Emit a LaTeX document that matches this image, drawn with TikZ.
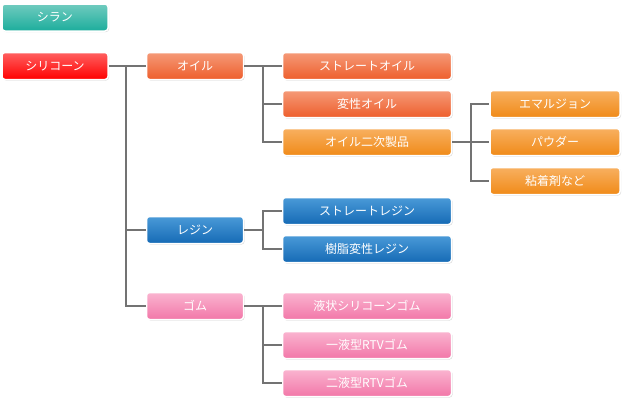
\documentclass[tikz,border=0pt]{standalone}
\usepackage{fontspec}
\setmainfont{Noto Sans CJK JP}
\usetikzlibrary{shadows}

\definecolor{tealA}{HTML}{70CBBF}\definecolor{tealB}{HTML}{1CAD9C}
\definecolor{redA}{HTML}{FF6060}\definecolor{redB}{HTML}{FF0000}
\definecolor{oilA}{HTML}{F59A78}\definecolor{oilB}{HTML}{EE5E2C}
\definecolor{subA}{HTML}{F8B060}\definecolor{subB}{HTML}{F08A18}
\definecolor{resA}{HTML}{4A9AD8}\definecolor{resB}{HTML}{156AB5}
\definecolor{gomA}{HTML}{FAB4D0}\definecolor{gomB}{HTML}{F277A8}

\tikzset{
  box/.style 2 args = {rounded corners=3pt, draw=white, line width=1.5pt,
    top color=#1, bottom color=#2, text=white, minimum height=27pt,
    inner sep=0pt, font=\fontsize{12}{14}\selectfont,
    drop shadow={shadow xshift=1pt, shadow yshift=-1pt, opacity=0.3}},
  w1/.style = {minimum width=106pt},
  w2/.style = {minimum width=97pt},
  w3/.style = {minimum width=169pt},
  w4/.style = {minimum width=130pt},
  link/.style = {draw=gray!90!black, line width=1.2pt}
}

\begin{document}
\begin{tikzpicture}[x=1pt, y=-1pt]

    \useasboundingbox (0,0) rectangle (625,415);

    % Top row
    \node [box={tealA}{tealB}, w1] (silane) at (55,17.5) {シラン};
    \node [box={redA}{redB}, w1] (silicone) at (55,66) {シリコーン};

    % Oil
    \node [box={oilA}{oilB}, w2] (oil) at (195,66) {オイル};
    \node [box={oilA}{oilB}, w3] (straightoil) at (367,66) {ストレートオイル};
    \node [box={oilA}{oilB}, w3] (modoil) at (367,104) {変性オイル};
    \node [box={subA}{subB}, w3] (oilprod) at (367,142) {オイル二次製品};
    \node [box={subA}{subB}, w4] (emulsion) at (555,104) {エマルジョン};
    \node [box={subA}{subB}, w4] (powder) at (555,142) {パウダー};
    \node [box={subA}{subB}, w4] (adhesive) at (555,181) {粘着剤など};

    % Resin
    \node [box={resA}{resB}, w2] (resin) at (195,230) {レジン};
    \node [box={resA}{resB}, w3] (straightresin) at (367,211) {ストレートレジン};
    \node [box={resA}{resB}, w3] (modresin) at (367,249) {樹脂変性レジン};

    % Rubber
    \node [box={gomA}{gomB}, w2] (rubber) at (195,306) {ゴム};
    \node [box={gomA}{gomB}, w3] (liquid) at (367,306) {液状シリコーンゴム};
    \node [box={gomA}{gomB}, w3] (rtvone) at (367,345) {一液型RTVゴム};
    \node [box={gomA}{gomB}, w3] (rtvtwo) at (367,383) {二液型RTVゴム};

    % Branch points
    \coordinate (b1) at (126,66);
    \coordinate (b2) at (263,66);
    \coordinate (b3) at (471,142);
    \coordinate (b4) at (263,230);
    \coordinate (b5) at (263,306);

    % Connectors
    \draw [link] (silicone) -- (oil);
    \draw [link] (b1) |- (resin.west);
    \draw [link] (b1) |- (rubber.west);
    \draw [link] (oil) -- (straightoil);
    \draw [link] (b2) |- (modoil.west);
    \draw [link] (b2) |- (oilprod.west);
    \draw [link] (oilprod) -- (powder);
    \draw [link] (b3) |- (emulsion.west);
    \draw [link] (b3) |- (adhesive.west);
    \draw [link] (resin) -- (b4);
    \draw [link] (b4) |- (straightresin.west);
    \draw [link] (b4) |- (modresin.west);
    \draw [link] (rubber) -- (liquid);
    \draw [link] (b5) |- (rtvone.west);
    \draw [link] (b5) |- (rtvtwo.west);

\end{tikzpicture}
\end{document}
